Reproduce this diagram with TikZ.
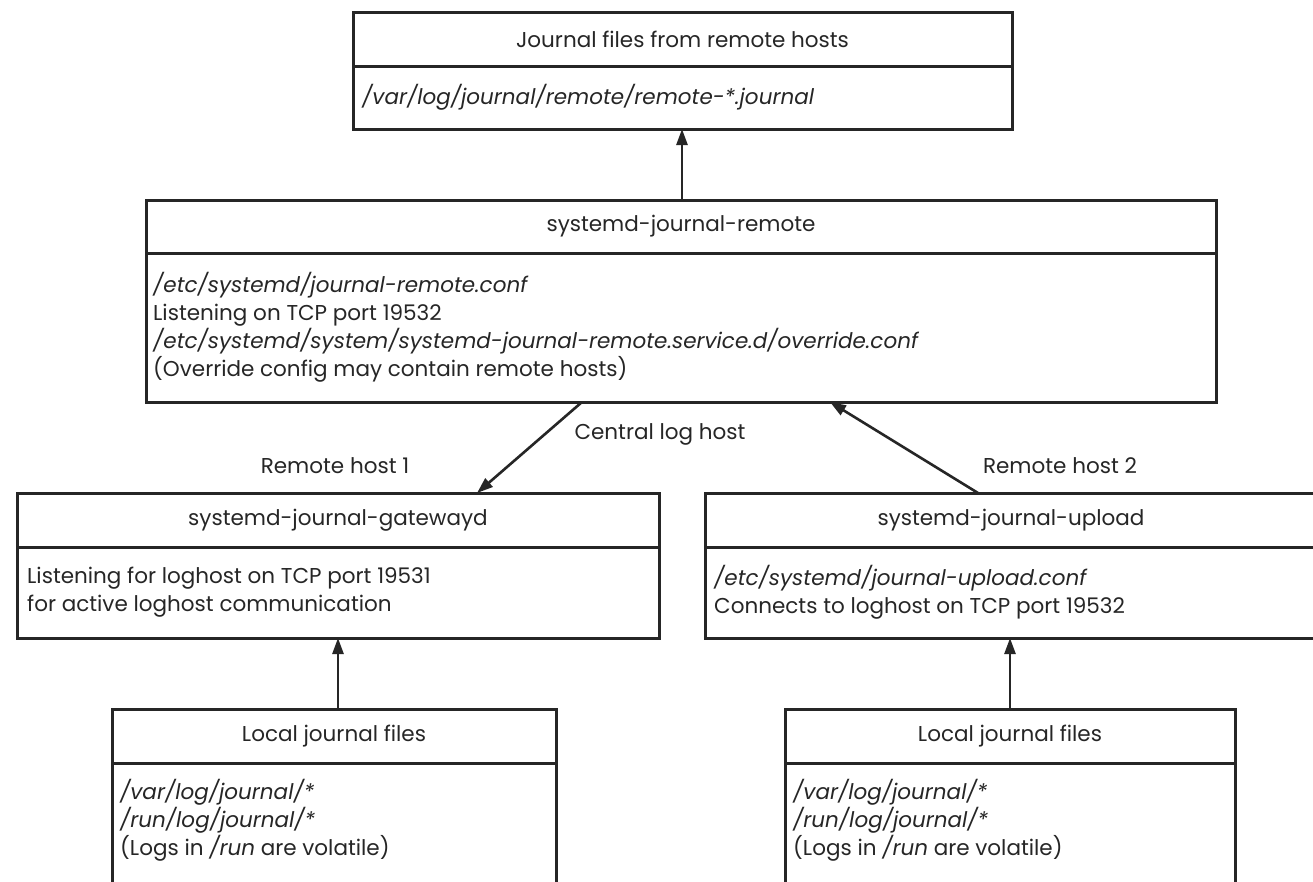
\documentclass[tikz,border=0pt]{standalone}
\usepackage{fontspec}
\setmainfont{Poppins}
\usetikzlibrary{arrows.meta}
\definecolor{ink}{HTML}{262626}
\begin{document}
\begin{tikzpicture}[x=1pt,y=-1pt,
  box/.style={draw=ink, line width=3pt, inner sep=0pt, outer sep=0pt, text=ink, font=\fontsize{21.5}{28}\selectfont},
  txt/.style={text=ink, font=\fontsize{21.5}{28}\selectfont, align=left, anchor=west, inner sep=0pt},
  lbl/.style={text=ink, font=\fontsize{21.5}{28}\selectfont, inner sep=0pt},
  arr/.style={draw=ink, line width=2.6pt, -{Triangle[length=16pt,width=11pt]}}
]
\useasboundingbox (0,0) rectangle (1313,881);
\clip (0,0) rectangle (1313,881);
\fill[white] (0,0) rectangle (1313,881);

% top box
\node[box, minimum width=659pt, minimum height=54pt] (toph) at (682.5,39) {Journal files from remote hosts};
\node[box, minimum width=659pt, minimum height=63pt, anchor=north] (topb) at (toph.south) {};
\node[txt] (topt) at ([xshift=9pt]topb.west) {\itshape /var/log/journal/remote/remote-*.journal};

% middle box
\node[box, minimum width=1070pt, minimum height=53pt] (midh) at (681,226.5) {systemd-journal-remote};
\node[box, minimum width=1070pt, minimum height=149pt, anchor=north] (midb) at (midh.south) {};
\node[txt] (midt) at ([xshift=7pt]midb.west) {\textit{/etc/systemd/journal-remote.conf}\\
Listening on TCP port 19532\\
\textit{/etc/systemd/system/systemd-journal-remote.service.d/override.conf}\\
(Override config may contain remote hosts)};

% left box
\node[box, minimum width=642pt, minimum height=54pt] (lefth) at (338,520) {systemd-journal-gatewayd};
\node[box, minimum width=642pt, minimum height=91pt, anchor=north] (leftb) at (lefth.south) {};
\node[txt] (leftt) at ([xshift=10pt]leftb.west) {Listening for loghost on TCP port 19531\\
for active loghost communication};

% right box
\node[box, minimum width=612pt, minimum height=54pt] (righth) at (1011,520) {systemd-journal-upload};
\node[box, minimum width=612pt, minimum height=91pt, anchor=north] (rightb) at (righth.south) {};
\node[txt] (rightt) at ([xshift=9pt]rightb.west) {\textit{/etc/systemd/journal-upload.conf}\\
Connects to loghost on TCP port 19532};

% bottom left box
\node[box, minimum width=444pt, minimum height=54pt] (blh) at (334,736) {Local journal files};
\node[box, minimum width=444pt, minimum height=187pt, anchor=north] (blb) at (blh.south) {};
\coordinate (blc) at (120,820.5);
\node[txt] (blt) at (blc) {\textit{/var/log/journal/*}\\
\textit{/run/log/journal/*}\\
(Logs in \textit{/run} are volatile)};

% bottom right box
\node[box, minimum width=450pt, minimum height=54pt] (brh) at (1010,736) {Local journal files};
\node[box, minimum width=450pt, minimum height=187pt, anchor=north] (brb) at (brh.south) {};
\coordinate (brc) at (793,820.5);
\node[txt] (brt) at (brc) {\textit{/var/log/journal/*}\\
\textit{/run/log/journal/*}\\
(Logs in \textit{/run} are volatile)};

% labels
\node[lbl] (central) at (660,434) {Central log host};
\node[lbl] (rh1) at (335,466) {Remote host 1};
\node[lbl] (rh2) at (1060,466) {Remote host 2};

% arrow x positions
\coordinate (xa) at (682,0);
\coordinate (xb) at (582,0);
\coordinate (xc) at (477,0);
\coordinate (xd) at (978,0);
\coordinate (xe) at (830,0);
\coordinate (xf) at (338,0);
\coordinate (xg) at (1010,0);

\draw[arr] (midh.north -| xa) -- (topb.south -| xa);
\draw[arr] (midb.south -| xb) -- (lefth.north -| xc);
\draw[arr] (righth.north -| xd) -- (midb.south -| xe);
\draw[arr] (blh.north -| xf) -- (leftb.south -| xf);
\draw[arr] (brh.north -| xg) -- (rightb.south -| xg);
\end{tikzpicture}
\end{document}
